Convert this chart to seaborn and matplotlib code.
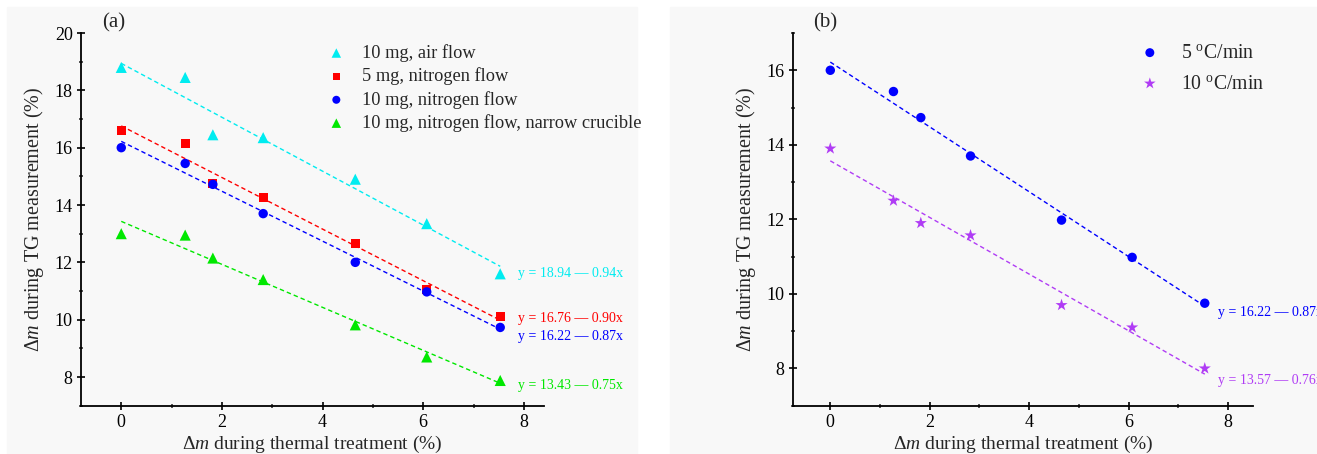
import numpy as np
import pandas as pd
import matplotlib
matplotlib.use("Agg")
import matplotlib.pyplot as plt
from matplotlib.patches import Rectangle
from matplotlib.ticker import MultipleLocator
import seaborn as sns

# ---- data -------------------------------------------------------------
dm_thermal = [0.0, 1.27, 1.82, 2.82, 4.65, 6.07, 7.53]

air_10mg = [18.80, 18.45, 16.45, 16.35, 14.90, 13.35, 11.60]
n2_5mg = [16.60, 16.15, 14.75, 14.25, 12.65, 11.05, 10.10]
n2_10mg = [16.00, 15.45, 14.72, 13.70, 12.00, 10.97, 9.73]
n2_narrow = [13.00, 12.95, 12.15, 11.40, 9.82, 8.70, 7.88]

rate_5 = [16.00, 15.43, 14.73, 13.70, 11.98, 10.98, 9.75]
rate_10 = [13.90, 12.50, 11.90, 11.57, 9.70, 9.10, 8.00]

labels_a = ["10 mg, air flow", "5 mg, nitrogen flow", "10 mg, nitrogen flow",
            "10 mg, nitrogen flow, narrow crucible"]
labels_b = ["5 $^{\\mathrm{o}}$C/min", "10 $^{\\mathrm{o}}$C/min"]

# linear fits y = a - b*x
fit_a = [(18.94, 0.94), (16.76, 0.90), (16.22, 0.87), (13.43, 0.75)]
fit_b = [(16.22, 0.87), (13.57, 0.76)]

# ---- style ------------------------------------------------------------
sns.set_style("ticks")
plt.rcParams["font.family"] = ["Liberation Serif", "DejaVu Serif"]
plt.rcParams["mathtext.fontset"] = "custom"
plt.rcParams["mathtext.rm"] = "Liberation Serif"
plt.rcParams["mathtext.it"] = "Liberation Serif:italic"

W, H = 1317, 454
fig = plt.figure(figsize=(W / 100, H / 100), dpi=100, facecolor="white")

panel_bg = "#f8f8f8"
fig.patches.append(Rectangle((7 / W, 0), (637 - 7) / W, 1 - 7 / H,
                             transform=fig.transFigure, color=panel_bg, zorder=-10))
fig.patches.append(Rectangle((670 / W, 0), (W - 670) / W, 1 - 7 / H,
                             transform=fig.transFigure, color=panel_bg, zorder=-10))

ax_a = fig.add_axes([81 / W, 1 - 405.7 / H, (544 - 81) / W, (405.7 - 33) / H])
ax_b = fig.add_axes([793 / W, 1 - 405.7 / H, (1253 - 793) / W, (405.7 - 33) / H])

cyan, red, blue, green, purple = "#00ecf0", "#ff0000", "#0000ff", "#00e800", "#b03cf5"

series_a = [
    (air_10mg, "^", 64, cyan),
    (n2_5mg, "s", 40, red),
    (n2_10mg, "o", 46, blue),
    (n2_narrow, "^", 64, green),
]
series_b = [
    (rate_5, "o", 46, blue),
    (rate_10, "*", 85, purple),
]


def draw_panel(ax, series, labels, fits, eq_pos):
    for (vals, mk, s, col), lab, (a, b), (ex, ey) in zip(series, labels, fits, eq_pos):
        df = pd.DataFrame({"x": dm_thermal, "y": vals})
        fit_df = pd.DataFrame({"x": [dm_thermal[0], dm_thermal[-1]]})
        fit_df["y"] = a - b * fit_df["x"]
        sns.lineplot(data=fit_df, x="x", y="y", ax=ax, color=col, lw=1.0,
                     zorder=2).lines[-1].set_dashes((3.2, 2.2))
        sns.scatterplot(data=df, x="x", y="y", ax=ax, marker=mk, s=s, color=col,
                        edgecolor="none", linewidth=0, label=lab, zorder=3)
        ax.text(ex, ey, f"y = {a:.2f} \u2014 {b:.2f}x", color=col, fontsize=10,
                va="center", ha="left", clip_on=False)
    ax.set_facecolor("none")
    for side in ("top", "right"):
        ax.spines[side].set_visible(False)
    for side in ("left", "bottom"):
        ax.spines[side].set_linewidth(1.3)
        ax.spines[side].set_color("black")
    ax.xaxis.set_major_locator(MultipleLocator(2))
    ax.xaxis.set_minor_locator(MultipleLocator(1))
    ax.yaxis.set_major_locator(MultipleLocator(2))
    ax.yaxis.set_minor_locator(MultipleLocator(1))
    ax.tick_params(which="major", direction="inout", length=6, width=1.2,
                   labelsize=13, pad=3, colors="black")
    ax.tick_params(which="minor", direction="inout", length=3, width=1.1)
    ax.set_xlabel("\u0394$m$ during thermal treatment (%)", fontsize=14, labelpad=2)
    ax.set_ylabel("\u0394$m$ during TG measurement (%)", fontsize=14.5, labelpad=6)


draw_panel(ax_a, series_a, labels_a, fit_a,
           [(7.88, 11.6), (7.88, 10.03), (7.88, 9.4), (7.88, 7.72)])
ax_a.set_xlim(-0.8, 8.4)
ax_a.set_ylim(7, 20)
ax_a.text(0.045, 1.027, "(a)", transform=ax_a.transAxes, fontsize=15,
          va="center", ha="left")
ax_a.legend(loc="upper left", bbox_to_anchor=(0.5, 1.005), frameon=False,
            fontsize=13.2, markerscale=0.85, handletextpad=0.8,
            labelspacing=0.3, handlelength=1.2, borderaxespad=0.3)

draw_panel(ax_b, series_b, labels_b, fit_b, [(7.80, 9.51), (7.80, 7.67)])
ax_b.set_xlim(-0.75, 8.5)
ax_b.set_ylim(7, 17)
ax_b.text(0.043, 1.027, "(b)", transform=ax_b.transAxes, fontsize=15,
          va="center", ha="left")
ax_b.legend(loc="upper left", bbox_to_anchor=(0.72, 1.008), frameon=False,
            fontsize=14.2, markerscale=0.95, handletextpad=1.0,
            labelspacing=0.6, handlelength=1.2, borderaxespad=0.3)

fig.savefig("out.png", dpi=100, facecolor="white")
